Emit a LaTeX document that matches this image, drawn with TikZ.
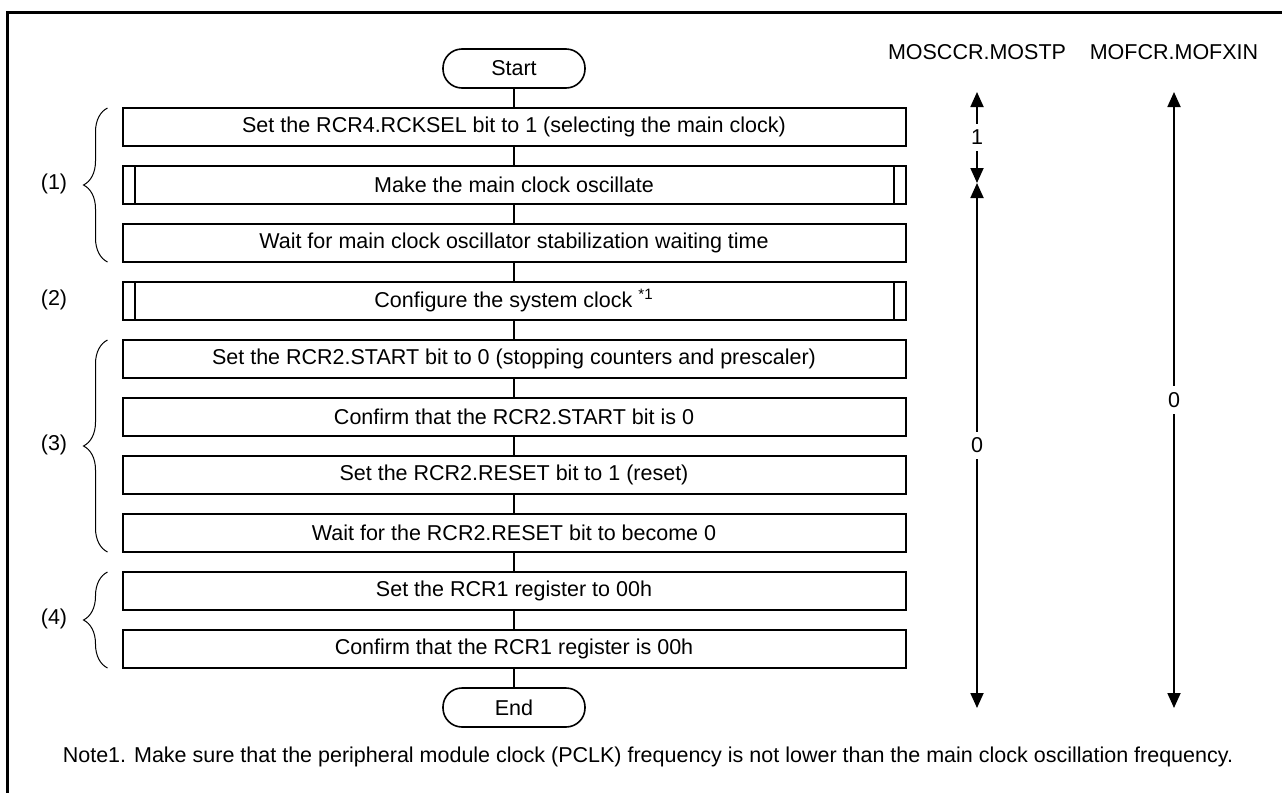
\documentclass[tikz,border=0pt]{standalone}
\usepackage{fontspec}
\setmainfont{Liberation Sans}
\usetikzlibrary{arrows.meta,positioning,decorations.pathreplacing}

\begin{document}
\begin{tikzpicture}[
            x=0.5pt, y=-0.5pt,
            node distance=10pt,
            txt/.style={font=\fontsize{10.75}{13}\selectfont, inner sep=1pt},
            terminal/.style={txt, rectangle, draw, rounded corners=9.5pt, minimum width=71pt, minimum height=19.5pt, line width=0.8pt, outer sep=0pt},
            box/.style={txt, rectangle, draw, minimum width=391.5pt, minimum height=19pt, line width=1pt, outer sep=0pt},
            subbox/.style={box, path picture={\draw[line width=1pt] ([xshift=6pt]path picture bounding box.north west) -- ([xshift=6pt]path picture bounding box.south west) ([xshift=-6pt]path picture bounding box.north east) -- ([xshift=-6pt]path picture bounding box.south east);}},
            flow/.style={line width=0.9pt},
            grp/.style={decorate, decoration={brace, amplitude=12pt}, line width=0.5pt},
            level/.style={<->, >={Triangle[length=7.5pt,width=6.5pt]}, line width=0.9pt},
            levtxt/.style={txt, fill=white, inner sep=3pt}
        ]
            \useasboundingbox (0,0) rectangle (1282,793);

            % --- Rahmen ---
            \draw[line width=1.5pt] (7,793) -- (7,12) -- (1282,12);

            % --- ABLAUF ---
            \node[terminal] (start) at (514,68.5) {Start};
            \node[box, below=of start] (rcksel) {Set the RCR4.RCKSEL bit to 1 (selecting the main clock)};
            \node[subbox, below=of rcksel] (osc) {Make the main clock oscillate};
            \node[box, below=of osc] (stab) {Wait for main clock oscillator stabilization waiting time};
            \node[subbox, below=of stab] (sysclk) {Configure the system clock \textsuperscript{*1}};
            \node[box, below=of sysclk] (stop) {Set the RCR2.START bit to 0 (stopping counters and prescaler)};
            \node[box, below=of stop] (chkstart) {Confirm that the RCR2.START bit is 0};
            \node[box, below=of chkstart] (reset) {Set the RCR2.RESET bit to 1 (reset)};
            \node[box, below=of reset] (waitreset) {Wait for the RCR2.RESET bit to become 0};
            \node[box, below=of waitreset] (setrcr1) {Set the RCR1 register to 00h};
            \node[box, below=of setrcr1] (chkrcr1) {Confirm that the RCR1 register is 00h};
            \node[terminal, below=of chkrcr1] (end) {End};

            \draw[flow] (start) -- (rcksel) -- (osc) -- (stab) -- (sysclk) -- (stop) -- (chkstart)
                -- (reset) -- (waitreset) -- (setrcr1) -- (chkrcr1) -- (end);

            % --- GRUPPEN (1) bis (4) ---
            \draw[grp] ([xshift=-7.5pt]stab.south west) -- ([xshift=-7.5pt]rcksel.north west);
            \draw[grp] ([xshift=-7.5pt]waitreset.south west) -- ([xshift=-7.5pt]stop.north west);
            \draw[grp] ([xshift=-7.5pt]chkrcr1.south west) -- ([xshift=-7.5pt]setrcr1.north west);
            \node[txt] (grp1) at (54,184) {(1)};
            \node[txt] (grp2) at (54,300) {(2)};
            \node[txt] (grp3) at (54,445) {(3)};
            \node[txt] (grp4) at (54,619) {(4)};

            % --- REGISTERBITS ---
            \node[txt] (mostp) at (977,52) {MOSCCR.MOSTP};
            \node[txt] (mofxin) at (1174,52) {MOFCR.MOFXIN};
            \coordinate (mostpTop) at (977,92);
            \coordinate (mostpMid) at (977,183);
            \coordinate (mostpBot) at (977,708);
            \coordinate (mofxinTop) at (1174,92);
            \coordinate (mofxinBot) at (1174,708);
            \draw[level] (mostpTop) -- node[levtxt] (mostp1) {1} (mostpMid);
            \draw[level] (mostpMid) -- node[levtxt] (mostp0) {0} (mostpBot);
            \draw[level] (mofxinTop) -- node[levtxt] (mofxin0) {0} (mofxinBot);

            % --- FUSSNOTE ---
            \node[txt] (note) at (648,757) {Note1. Make sure that the peripheral module clock (PCLK) frequency is not lower than the main clock oscillation frequency.};

        \end{tikzpicture}
\end{document}
